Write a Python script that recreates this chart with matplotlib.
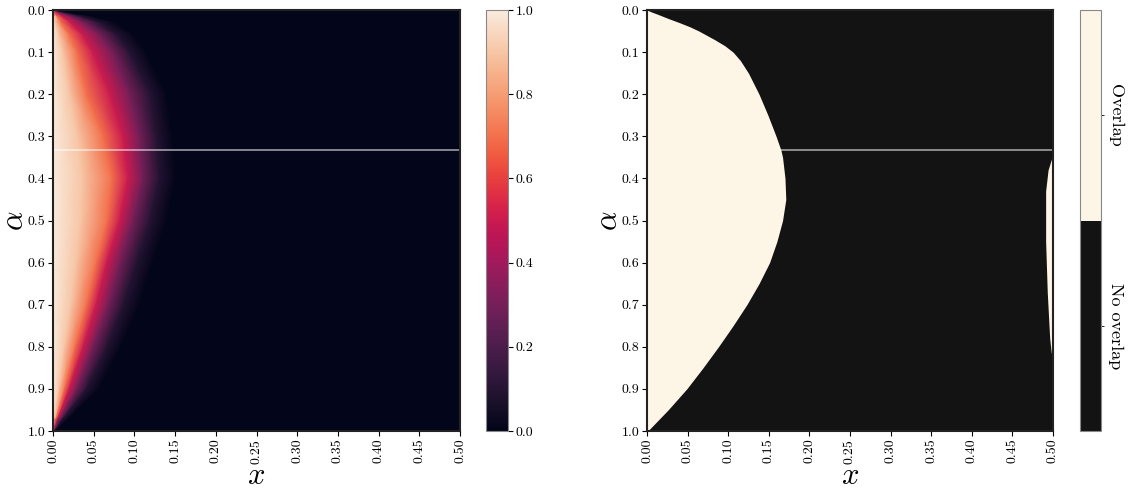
import numpy as np
import matplotlib
matplotlib.use("Agg")
import matplotlib.pyplot as plt
from matplotlib.colors import ListedColormap
import seaborn as sns

plt.rcParams['font.family'] = 'serif'
plt.rcParams['font.serif'] = ['cmr10']
plt.rcParams['mathtext.fontset'] = 'cm'
plt.rcParams['axes.formatter.use_mathtext'] = True

# Left panel: x positions (per alpha row) where the value reaches given levels
alpha_rows = [0.0, 0.015, 0.03, 0.06, 0.1, 0.2, 0.3, 0.4, 0.5, 0.6, 0.7, 0.8, 0.9, 0.97, 1.0]
x_lvl_90 = [0.0005, 0.002, 0.003, 0.007, 0.012, 0.020, 0.030, 0.036, 0.034, 0.028, 0.022, 0.014, 0.007, 0.002, 0.0005]
x_lvl_70 = [0.0010, 0.005, 0.010, 0.020, 0.029, 0.041, 0.061, 0.072, 0.066, 0.053, 0.041, 0.027, 0.014, 0.004, 0.0010]
x_lvl_50 = [0.0015, 0.012, 0.022, 0.037, 0.049, 0.070, 0.086, 0.092, 0.082, 0.066, 0.053, 0.037, 0.020, 0.006, 0.0015]
x_lvl_30 = [0.0020, 0.022, 0.038, 0.058, 0.073, 0.094, 0.106, 0.110, 0.098, 0.082, 0.068, 0.049, 0.029, 0.009, 0.0020]
x_lvl_10 = [0.0025, 0.035, 0.057, 0.079, 0.094, 0.119, 0.127, 0.130, 0.119, 0.102, 0.086, 0.066, 0.041, 0.013, 0.0025]
x_lvl_00 = [0.0030, 0.050, 0.078, 0.100, 0.115, 0.140, 0.147, 0.151, 0.140, 0.123, 0.107, 0.084, 0.057, 0.020, 0.0030]
edge_value = [0.6, 1.0, 1.0, 1.0, 1.0, 1.0, 1.0, 1.0, 1.0, 1.0, 1.0, 1.0, 1.0, 1.0, 0.5]
levels = [0.9, 0.7, 0.5, 0.3, 0.1, 0.0]

# Right panel: boundary of the overlap region
alpha_b = [0.0, 0.005, 0.01, 0.02, 0.03, 0.04, 0.05, 0.07, 0.085, 0.1, 0.12, 0.15, 0.2, 0.25, 0.3, 0.333, 0.35,
           0.4, 0.45, 0.5, 0.55, 0.6, 0.65, 0.7, 0.75, 0.8, 0.85, 0.9, 0.95, 1.0]
x_b = [0.0, 0.006, 0.013, 0.026, 0.040, 0.053, 0.064, 0.083, 0.096, 0.106, 0.115, 0.125, 0.138, 0.149, 0.159, 0.165, 0.167,
       0.170, 0.171, 0.167, 0.160, 0.151, 0.138, 0.123, 0.106, 0.088, 0.069, 0.049, 0.026, 0.001]
alpha_s = [0.352, 0.38, 0.43, 0.55, 0.67, 0.78, 0.815]
x_s = [0.4985, 0.494, 0.491, 0.491, 0.493, 0.496, 0.498]

alpha_line = 1 / 3
dark = '#131313'
cream = '#fdf5e6'

fig = plt.figure(figsize=(11.35, 4.88), dpi=100)
ax1 = fig.add_axes([0.0467, 0.1168, 0.3586, 0.8627])
cax1 = fig.add_axes([0.4282, 0.1168, 0.0194, 0.8627])
ax2 = fig.add_axes([0.5700, 0.1168, 0.3577, 0.8627])
cax2 = fig.add_axes([0.9515, 0.1168, 0.0185, 0.8627])

# curvilinear grid: columns follow the level curves
n = len(alpha_rows)
X = np.column_stack([np.zeros(n), x_lvl_90, x_lvl_70, x_lvl_50, x_lvl_30, x_lvl_10, x_lvl_00, np.full(n, 0.5)])
Y = np.repeat(np.array(alpha_rows)[:, None], X.shape[1], axis=1)
C = np.zeros_like(X)
C[:, 0] = edge_value
for j, lv in enumerate(levels):
    C[:, j + 1] = lv
C[0, 1:] *= edge_value[0]
C[-1, 1:] *= edge_value[-1]

rocket = sns.color_palette("rocket", as_cmap=True)
ax1.set_facecolor(rocket(0.0))
mesh = ax1.pcolormesh(X, Y, C, shading='gouraud', cmap=rocket, vmin=0, vmax=1)
ax1.axhline(alpha_line, color='white', alpha=0.6, lw=1.2)

cb1 = fig.colorbar(mesh, cax=cax1, ticks=[0, 0.2, 0.4, 0.6, 0.8, 1.0])
cb1.ax.set_yticklabels(['0.0', '0.2', '0.4', '0.6', '0.8', '1.0'])
cb1.outline.set_edgecolor('#888888')
cb1.outline.set_linewidth(0.8)

# right panel
ax2.set_facecolor(dark)
ax2.axhline(alpha_line, color='white', alpha=0.6, lw=1.2, zorder=0.5)
ax2.fill_betweenx(alpha_b, 0, x_b, color=cream, lw=0, zorder=1)
ax2.fill_betweenx(alpha_s, x_s, 0.5, color=cream, lw=0, zorder=1)

bin_cmap = ListedColormap([dark, cream])
sm = plt.cm.ScalarMappable(cmap=bin_cmap, norm=plt.Normalize(0, 1))
cb2 = fig.colorbar(sm, cax=cax2, ticks=[0.25, 0.75])
cb2.ax.set_yticklabels(['No overlap', 'Overlap'], rotation=270, va='center', fontsize=13)
cb2.ax.tick_params(length=2, width=0.6, pad=3)
cb2.outline.set_edgecolor('#888888')
cb2.outline.set_linewidth(0.8)

for ax in (ax1, ax2):
    ax.set_xlim(0, 0.5)
    ax.set_ylim(1, 0)
    ax.set_xticks(np.arange(0, 0.501, 0.05))
    ax.set_xticklabels(['%.2f' % v for v in np.arange(0, 0.501, 0.05)], rotation=90)
    ax.set_yticks(np.arange(0, 1.001, 0.1))
    ax.set_yticklabels(['%.1f' % v for v in np.arange(0, 1.001, 0.1)])
    ax.tick_params(labelsize=10, length=3.5, width=0.8, pad=2)
    ax.set_xlabel('$x$', fontsize=22, va='center')
    ax.set_ylabel(r'$\alpha$', fontsize=22, va='center')
    ax.xaxis.set_label_coords(0.5, -0.107)
    ax.yaxis.set_label_coords(-0.092, 0.5)
    for sp in ax.spines.values():
        sp.set_color('#222222')
        sp.set_linewidth(1.5)

cb1.ax.tick_params(labelsize=10, length=3.5, width=0.8, pad=2)

fig.savefig('out.png', dpi=100)
